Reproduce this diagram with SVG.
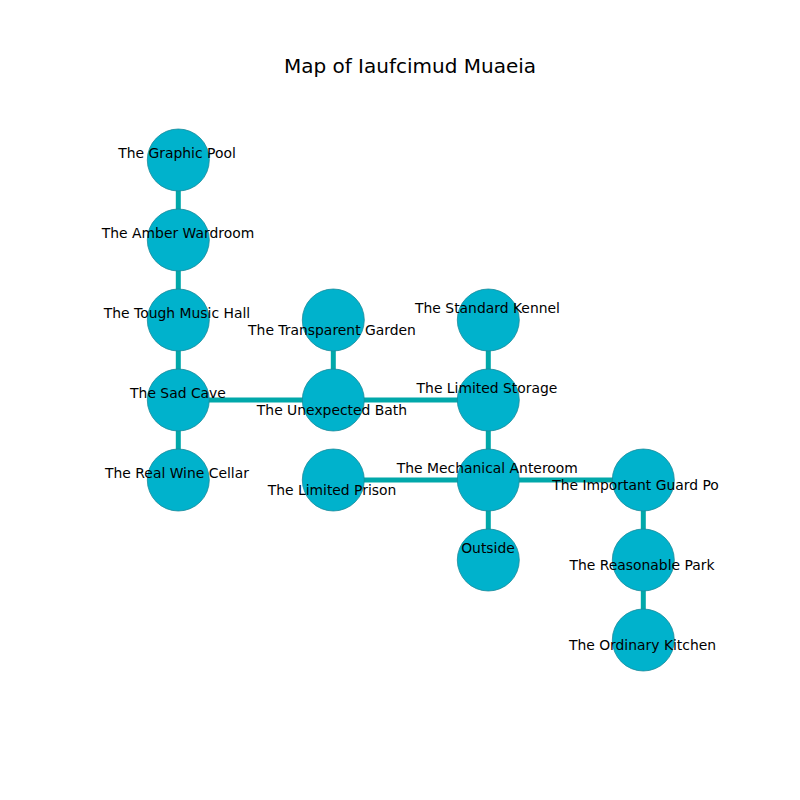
<svg xmlns="http://www.w3.org/2000/svg" width="800" height="800" viewBox="0 0 800 800">
  <style>
    .edge { stroke: #00a8aa; stroke-width: 5; fill: none; }
    .node circle { fill: #00b2cc; stroke: #1a8a9a; stroke-width: 0.8; }
    .node text { font-family: "DejaVu Sans", sans-serif; font-size: 13.9px; fill: #000; text-anchor: middle; }
    .title { font-family: "DejaVu Sans", sans-serif; font-size: 20px; fill: #000; text-anchor: middle; }
  </style>
  <rect width="800" height="800" fill="#ffffff"/>
  <text class="title" x="410" y="73">Map of Iaufcimud Muaeia</text>

  <g id="connectors">
    <line class="edge" x1="178.3" y1="160" x2="178.3" y2="240"/>
    <line class="edge" x1="178.3" y1="240" x2="178.3" y2="320"/>
    <line class="edge" x1="178.3" y1="320" x2="178.3" y2="400"/>
    <line class="edge" x1="178.3" y1="400" x2="178.3" y2="480"/>
    <line class="edge" x1="178.3" y1="400" x2="333.3" y2="400"/>
    <line class="edge" x1="333.3" y1="320" x2="333.3" y2="400"/>
    <line class="edge" x1="333.3" y1="400" x2="488.3" y2="400"/>
    <line class="edge" x1="488.3" y1="320" x2="488.3" y2="400"/>
    <line class="edge" x1="488.3" y1="400" x2="488.3" y2="480"/>
    <line class="edge" x1="333.3" y1="480" x2="488.3" y2="480"/>
    <line class="edge" x1="488.3" y1="480" x2="643.3" y2="480"/>
    <line class="edge" x1="488.3" y1="480" x2="488.3" y2="560"/>
    <line class="edge" x1="643.3" y1="480" x2="643.3" y2="560"/>
    <line class="edge" x1="643.3" y1="560" x2="643.3" y2="640"/>
  </g>

  <g id="graphic-pool" class="node"><circle cx="178.3" cy="160" r="31"/><text x="177" y="158">The Graphic Pool</text></g>
  <g id="amber-wardroom" class="node"><circle cx="178.3" cy="240" r="31"/><text x="178" y="238">The Amber Wardroom</text></g>
  <g id="tough-music-hall" class="node"><circle cx="178.3" cy="320" r="31"/><text x="177" y="318">The Tough Music Hall</text></g>
  <g id="sad-cave" class="node"><circle cx="178.3" cy="400" r="31"/><text x="178" y="398">The Sad Cave</text></g>
  <g id="real-wine-cellar" class="node"><circle cx="178.3" cy="480" r="31"/><text x="177" y="478">The Real Wine Cellar</text></g>
  <g id="transparent-garden" class="node"><circle cx="333.3" cy="320" r="31"/><text x="332" y="335">The Transparent Garden</text></g>
  <g id="unexpected-bath" class="node"><circle cx="333.3" cy="400" r="31"/><text x="332" y="415">The Unexpected Bath</text></g>
  <g id="limited-prison" class="node"><circle cx="333.3" cy="480" r="31"/><text x="332" y="495">The Limited Prison</text></g>
  <g id="standard-kennel" class="node"><circle cx="488.3" cy="320" r="31"/><text x="487.5" y="313">The Standard Kennel</text></g>
  <g id="limited-storage" class="node"><circle cx="488.3" cy="400" r="31"/><text x="487" y="393">The Limited Storage</text></g>
  <g id="mechanical-anteroom" class="node"><circle cx="488.3" cy="480" r="31"/><text x="487.3" y="473">The Mechanical Anteroom</text></g>
  <g id="outside" class="node"><circle cx="488.3" cy="560" r="31"/><text x="488" y="553">Outside</text></g>
  <g id="important-guard-po" class="node"><circle cx="643.3" cy="480" r="31"/><text x="635.5" y="490">The Important Guard Po</text></g>
  <g id="reasonable-park" class="node"><circle cx="643.3" cy="560" r="31"/><text x="642" y="570">The Reasonable Park</text></g>
  <g id="ordinary-kitchen" class="node"><circle cx="643.3" cy="640" r="31"/><text x="642.5" y="650">The Ordinary Kitchen</text></g>
</svg>
